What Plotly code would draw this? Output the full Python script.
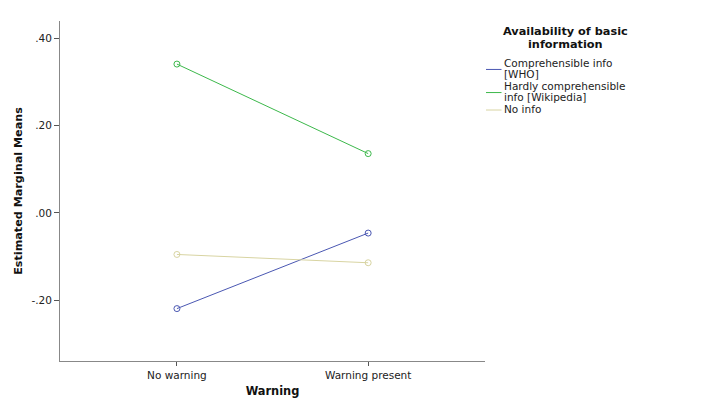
import plotly.graph_objects as go

categories = ["No warning", "Warning present"]
series_names = ["Comprehensible info [WHO]", "Hardly comprehensible info [Wikipedia]", "No info"]
legend_lines = [["Comprehensible info", "[WHO]"], ["Hardly comprehensible", "info [Wikipedia]"], ["No info"]]
comprehensible = [-0.219, -0.046]
hardly = [0.341, 0.136]
no_info = [-0.095, -0.114]
y_tick_vals = [-0.2, 0.0, 0.2, 0.4]
y_tick_text = ["-.20", ".00", ".20", ".40"]
legend_title_lines = ["Availability of basic", "information"]

colors = ["#4a57b2", "#3cb84b", "#d8d4a2"]
series = [comprehensible, hardly, no_info]
xpos = list(range(len(categories)))

W, H = 706, 401
ML, MR, MT, MB = 52, 229, 13, 48
PW, PH = W - ML - MR, H - MT - MB


def px(xp):
    return (xp - ML) / PW


def py(yp):
    return 1 - (yp - MT) / PH


fig = go.Figure()
for name, vals, col in zip(series_names, series, colors):
    fig.add_trace(go.Scatter(
        x=xpos, y=vals, name=name, mode="lines+markers", showlegend=False,
        line=dict(color=col, width=1),
        marker=dict(symbol="circle-open", size=6, color=col, line=dict(width=1, color=col)),
    ))

reg = "DejaVu Sans, Verdana, sans-serif"

# legend (title + entries), laid out with SPSS-like tight line spacing
annotations = []
shapes = []
title_cx, title_y0, title_dy = 557.5, 23.6, 13.0
for i, t in enumerate(legend_title_lines):
    annotations.append(dict(
        text="<b>%s</b>" % t, xref="paper", yref="paper",
        x=px(title_cx), y=py(title_y0 + i * title_dy), xanchor="center", yanchor="middle",
        showarrow=False, font=dict(size=11.3, family=reg, color="#111"), borderpad=0,
    ))
text_x, key_x0, key_x1 = 495.0, 478.0, 493.5
y = 55.0
line_dy, item_gap = 10.9, 1.3
for lines, col in zip(legend_lines, colors):
    first = y
    for t in lines:
        annotations.append(dict(
            text=t, xref="paper", yref="paper", x=px(text_x), y=py(y),
            xanchor="left", yanchor="middle", showarrow=False,
            font=dict(size=10.5, family=reg, color="#222"), borderpad=0,
        ))
        y += line_dy
    last = y - line_dy
    ky = (first + last) / 2 + (1.0 if len(lines) > 1 else 0.8)
    shapes.append(dict(type="line", xref="paper", yref="paper",
                       x0=px(key_x0), x1=px(key_x1), y0=py(ky), y1=py(ky),
                       line=dict(color=col, width=1)))
    y += item_gap

fig.update_layout(
    width=W, height=H,
    margin=dict(l=ML, r=MR, t=MT, b=MB),
    paper_bgcolor="white", plot_bgcolor="white",
    font=dict(family=reg, size=10.5, color="#222"),
    xaxis=dict(
        range=[-0.6115, 1.611], tickvals=xpos, ticktext=categories,
        showline=True, linecolor="#888", linewidth=1, mirror=False,
        ticks="outside", ticklen=4, tickcolor="#555", showgrid=False, zeroline=False,
        automargin=False, tickfont=dict(size=10.5),
        title=dict(text="<b>Warning</b>", font=dict(size=11.4, family=reg, color="#111"), standoff=7),
    ),
    yaxis=dict(
        range=[-0.339, 0.4397], tickvals=y_tick_vals, ticktext=y_tick_text,
        showline=True, linecolor="#888", linewidth=1,
        ticks="outside", ticklen=5, tickcolor="#555", showgrid=False, zeroline=False,
        automargin=False, tickfont=dict(size=10.5),
        title=dict(text="<b>Estimated Marginal Means</b>", font=dict(size=11.2, family=reg, color="#111"), standoff=6),
    ),
    annotations=annotations,
    shapes=shapes,
    showlegend=False,
)
fig.write_html("out.html")
